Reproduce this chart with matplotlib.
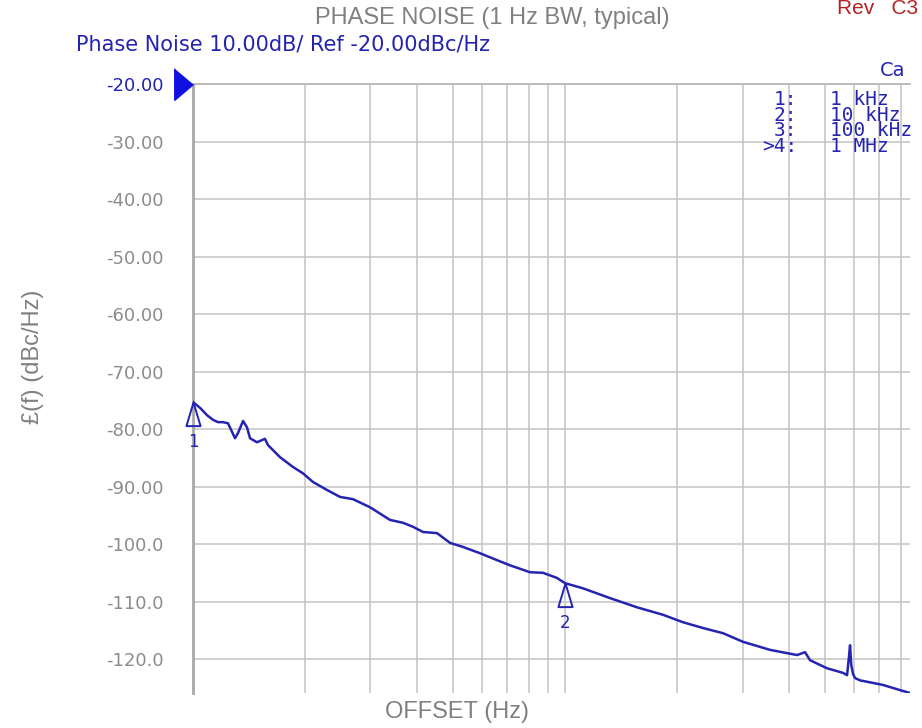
import numpy as np
import matplotlib
matplotlib.use('Agg')
import matplotlib.pyplot as plt
from matplotlib.transforms import Bbox

# trace (offset Hz, dBc/Hz)
freq = [1000, 1044, 1091, 1132, 1167, 1204, 1242, 1297, 1321, 1363, 1397, 1423,
        1486, 1561, 1591, 1714, 1857, 1975, 2101, 2292, 2484, 2693, 2991, 3384,
        3668, 3903, 4152, 4528, 4910, 5318, 5909, 6566, 7115, 8054, 8728, 9517,
        10000, 11180, 13213, 15615, 18339, 20763, 23496, 26590, 30096, 35568,
        42051, 44180, 45570, 50620, 55880, 57300, 58000, 58370, 58800, 59470,
        60210, 62090, 71580, 79560, 84600]
noise = [-75.3, -76.3, -77.6, -78.4, -78.8, -78.8, -79.0, -81.6, -80.7, -78.6,
         -79.7, -81.6, -82.3, -81.7, -82.8, -84.9, -86.6, -87.7, -89.2, -90.6,
         -91.8, -92.2, -93.6, -95.8, -96.3, -97.0, -97.9, -98.1, -99.8, -100.5,
         -101.6, -102.8, -103.7, -104.9, -105.0, -105.9, -106.8, -107.7, -109.4,
         -111.0, -112.3, -113.6, -114.6, -115.5, -117.0, -118.4, -119.3, -118.8,
         -120.2, -121.6, -122.4, -122.8, -119.5, -117.6, -121.0, -122.6, -123.3,
         -123.7, -124.5, -125.4, -125.9]

marker_freqs = [1000, 10000]
marker_names = ['1', '2']
table_ids = ['1:', '2:', '3:', '>4:']
table_vals = ['1 kHz', '10 kHz', '100 kHz', '1 MHz']

ref_level = -20
ytick_vals = [-20, -30, -40, -50, -60, -70, -80, -90, -100, -110, -120]
ytick_labels = ['-20.00', '-30.00', '-40.00', '-50.00', '-60.00', '-70.00',
                '-80.00', '-90.00', '-100.0', '-110.0', '-120.0']
grid_freqs = [2000, 3000, 4000, 5000, 6000, 7000, 8000, 9000, 10000,
              20000, 30000, 40000, 50000, 60000, 70000, 80000]

blue = '#2424b0'
grey = '#8c8c8c'
W, H = 922, 728

fig = plt.figure(figsize=(9.22, 7.28), dpi=100)
ax = fig.add_axes([193/W, 1-693/H, (910-193)/W, (693-84)/H])
ax.set_xscale('log')
ax.set_xlim(1000, 84600)
ax.set_ylim(-125.9, -20)

ax.set_xticks(grid_freqs)
ax.set_xticklabels([])
ax.xaxis.set_minor_locator(matplotlib.ticker.NullLocator())
ax.set_yticks(ytick_vals)
ax.set_yticklabels(ytick_labels)
ax.tick_params(length=0, pad=21, labelsize=13, labelcolor=grey)
ax.get_yticklabels()[0].set_color(blue)
ax.grid(True, color='#c4c4c4', linewidth=1.1)

ax.spines['right'].set_visible(False)
ax.spines['bottom'].set_visible(False)
ax.spines['top'].set_color('#b4b4b4')
ax.spines['top'].set_linewidth(1.2)
ax.spines['left'].set_color('#a8a8a8')
ax.spines['left'].set_linewidth(2)

ax.plot(freq, noise, color=blue, linewidth=1.8, zorder=3)

# ref level arrow
ax.plot([1000], [ref_level], marker=[(-1.9, 1.6), (-1.9, -1.6), (0, 0)],
        markersize=27, color='#1010e0', clip_on=False, zorder=5)

# markers on the trace
lf = np.log10(freq)
for mf, name in zip(marker_freqs, marker_names):
    mv = np.interp(np.log10(mf), lf, noise)
    ax.plot([mf], [mv], marker=[(0, 0), (-0.6, -2), (0.6, -2), (0, 0)],
            markersize=34, mfc='none', mec=blue, mew=1.4, clip_on=False, zorder=4)
    ax.annotate(name, (mf, mv), xytext=(0, -40), textcoords='offset pixels',
                ha='center', va='center', color=blue, fontsize=12)

# marker table, cut at the edge of the screenshot
fig.text(880/W, 1-71/H, 'Ca', color=blue, fontsize=14, va='center', ha='left')
fig.text(797/W, 1-90/H, '\n'.join(table_ids), color=blue, family='DejaVu Sans Mono',
         fontsize=14, va='top', ha='right', linespacing=0.78)
t = fig.text(830/W, 1-90/H, '\n'.join(table_vals), color=blue,
             family='DejaVu Sans Mono', fontsize=14, va='top', ha='left',
             linespacing=0.78)
t.set_clip_box(Bbox([[0, 0], [912, H]]))
t.set_clip_on(True)

fig.text(76/W, 1-44/H, 'Phase Noise 10.00dB/ Ref -20.00dBc/Hz', color=blue,
         fontsize=15, va='center', ha='left')
fig.text(492/W, 1-18/H, 'PHASE NOISE (1 Hz BW, typical)', color='#808080',
         family='Liberation Sans', fontsize=17, va='center', ha='center')
fig.text(457/W, 1-712/H, 'OFFSET (Hz)', color='#808080',
         family='Liberation Sans', fontsize=17, va='center', ha='center')
fig.text(33/W, 1-357/H, '£(f) (dBc/Hz)', color='#808080', rotation=90,
         family='Liberation Sans', fontsize=17, va='center', ha='center')
fig.text(837/W, 1-9/H, 'Rev   C3', color='#b52020',
         family='Liberation Sans', fontsize=15, va='center', ha='left')

plt.savefig('out.png', dpi=100)
plt.close()
